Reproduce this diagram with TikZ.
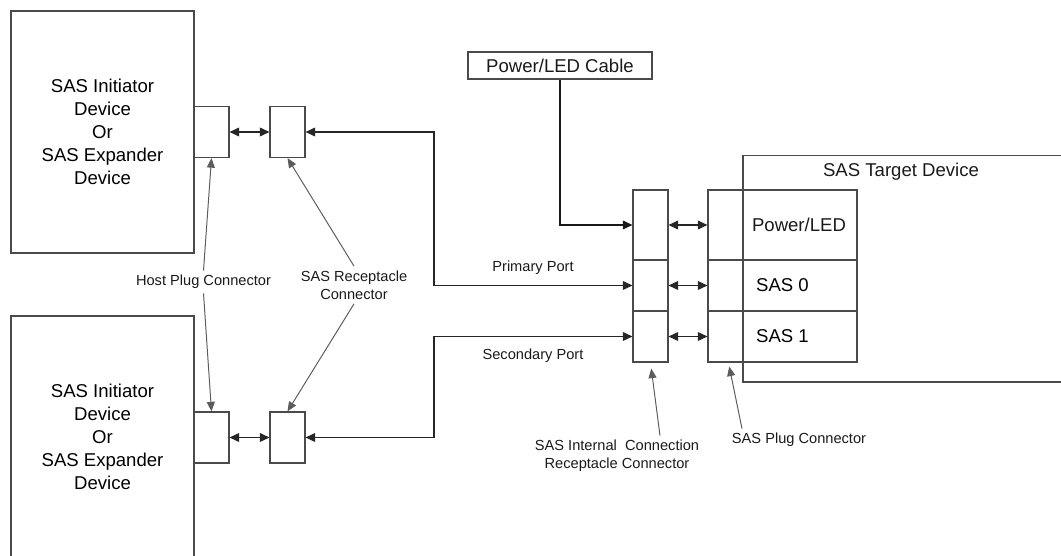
\documentclass[tikz,border=0pt]{standalone}
\usepackage{fontspec}
\setmainfont{Liberation Sans}
\usepackage{xcolor}
\definecolor{Edge}{HTML}{4A4A4A}
\definecolor{Pointer}{HTML}{5C5C5C}
\definecolor{Ink}{HTML}{1A1A1A}
\usetikzlibrary{arrows.meta,positioning,calc}
\tikzset{
  unit/.style={draw=Edge,line width=0.8pt,inner sep=0pt},
  devbox/.style={unit,minimum width=4.575cm,minimum height=6.05cm,align=center,
    font=\fontsize{13.2}{16.4}\selectfont},
  plugbox/.style={unit,minimum width=0.875cm,minimum height=1.275cm},
  irccell/.style={unit,minimum width=0.875cm,minimum height=#1},
  tgtcell/.style={unit,minimum width=3.725cm,minimum height=#1,
    font=\fontsize{13.2}{16.2}\selectfont},
  biglabel/.style={font=\fontsize{13.2}{16.2}\selectfont,text=Ink},
  smalllabel/.style={font=\fontsize{10.4}{12.8}\selectfont,align=center,text=Ink,inner sep=3pt},
  link/.style={{Triangle[length=2.4mm,width=2.2mm]}-{Triangle[length=2.4mm,width=2.2mm]},
    line width=0.8pt,draw=black!85},
  feed/.style={-{Triangle[length=2.4mm,width=2.2mm]},line width=0.8pt,draw=black!90},
  pointer/.style={-{Triangle[length=2.4mm,width=2mm]},line width=0.7pt,draw=Pointer}
}

\begin{document}
\begin{tikzpicture}[x=0.025cm,y=-0.025cm]
  \useasboundingbox (0,0) rectangle (1061,556);

  % host side
  \node[devbox] (init1) at (102.5,132) {SAS Initiator\\Device\\Or\\SAS Expander\\Device};
  \node[devbox] (init2) at (102.5,437) {SAS Initiator\\Device\\Or\\SAS Expander\\Device};
  \node[plugbox] (plug1) at (211.5,132) {};
  \node[plugbox] (plug2) at (211.5,437.5) {};
  \node[plugbox] (rcpt1) at (287.5,132) {};
  \node[plugbox] (rcpt2) at (287.5,437.5) {};

  % target side
  \node[unit,minimum width=9.5cm,minimum height=5.6625cm] (target) at (933,268.75) {};
  \node[biglabel] (tgtname) at (901,172) {SAS Target Device};
  \node[unit,minimum width=4.6cm,minimum height=0.675cm,biglabel] (cable) at (560,65.5) {Power/LED Cable};

  \node[irccell=1.75cm]  (ircA) at (650.5,225) {};
  \node[irccell=1.275cm] (ircB) at (650.5,285.5) {};
  \node[irccell=1.275cm] (ircC) at (650.5,336.5) {};
  \node[tgtcell=1.75cm]  (tgtA) at (782.5,225) {};
  \node[tgtcell=1.275cm] (tgtB) at (782.5,285.5) {SAS 0};
  \node[tgtcell=1.275cm] (tgtC) at (782.5,336.5) {SAS 1};
  \node[biglabel] (pwrled) at (799,225) {Power/LED};

  % cabling
  \coordinate (bend) at (434,0);
  \draw[link] (plug1.east) -- (rcpt1.west);
  \draw[link] (plug2.east) -- (rcpt2.west);
  \draw[link] (rcpt1.east) -- (rcpt1.east -| bend) |- (ircB.west);
  \draw[link] (rcpt2.east) -- (rcpt2.east -| bend) |- (ircC.west);
  \draw[feed] (cable.south) |- (ircA.west);
  \draw[link] (ircA.east) -- (tgtA.west);
  \draw[link] (ircB.east) -- (tgtB.west);
  \draw[link] (ircC.east) -- (tgtC.west);

  \node[smalllabel] (primary) at (533,268) {Primary Port};
  \node[smalllabel] (secondary) at (533,356) {Secondary Port};

  % callouts
  \node[smalllabel] (hostlbl) at (203.5,282) {Host Plug Connector};
  \node[smalllabel] (rcptlbl) at (354,285) {SAS Receptacle\\Connector};
  \node[smalllabel] (irclbl) at (617,456) {SAS Internal~ Connection\\Receptacle Connector};
  \node[smalllabel] (pluglbl) at (799,440) {SAS Plug Connector};
  \coordinate (plugfoot) at ($(tgtC.south west)+(21,0)$);

  \draw[pointer] (hostlbl.north) -- (plug1.south);
  \draw[pointer] (hostlbl.south) -- (plug2.north);
  \draw[pointer] (rcptlbl.north) -- (rcpt1.south);
  \draw[pointer] (rcptlbl.south) -- (rcpt2.north);
  \draw[pointer,shorten >=0.15cm] ($(irclbl.north)+(43,0)$) -- (ircC.south);
  \draw[pointer,shorten >=0.1cm] ($(pluglbl.north)+(-57,0)$) -- (plugfoot);
\end{tikzpicture}
\end{document}
